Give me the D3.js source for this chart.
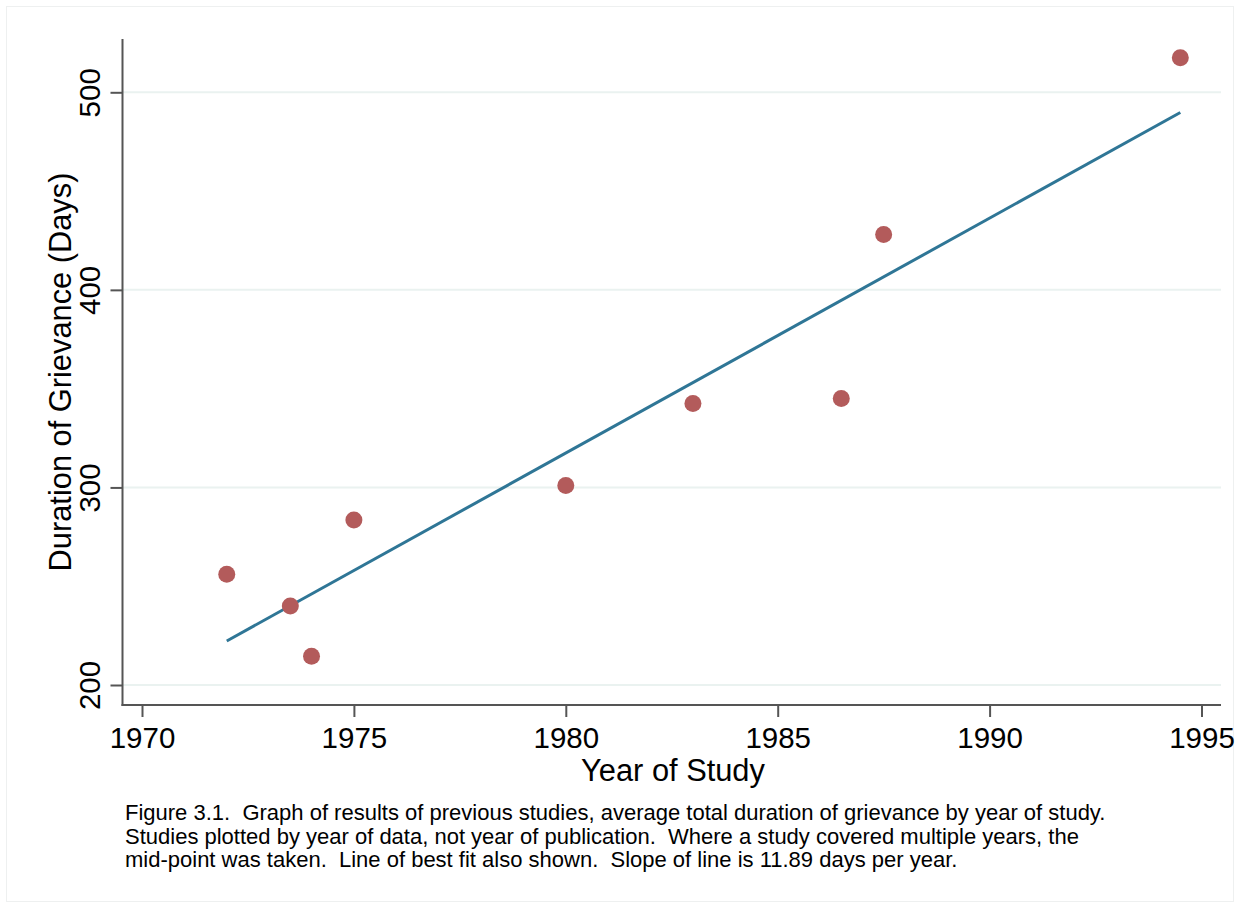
<!DOCTYPE html>
<html><head><meta charset="utf-8">
<script src="https://cdn.jsdelivr.net/npm/d3@7"></script>
<style>
body{margin:0;background:#fff;}
svg{display:block;font-family:"Liberation Sans",Arial,Helvetica,sans-serif;}
.cap{white-space:pre;}
</style></head>
<body><svg id="c" width="1253" height="908"></svg>
<script>
// Data
const studyYears = [1972, 1973.5, 1974, 1975, 1980, 1983, 1986.5, 1987.5, 1994.5];
const durations  = [256, 240, 214.5, 283.5, 301, 342.5, 345, 428, 517.5];
const fitYears   = [1972, 1994.5];
const fitValues  = [222.3, 489.8];
const xTicks = [1970, 1975, 1980, 1985, 1990, 1995];
const yTicks = [200, 300, 400, 500];
const captionLines = [
  "Figure 3.1.  Graph of results of previous studies, average total duration of grievance by year of study.",
  "Studies plotted by year of data, not year of publication.  Where a study covered multiple years, the",
  "mid-point was taken.  Line of best fit also shown.  Slope of line is 11.89 days per year."
];

(function(){
const svg = d3.select("#c");
svg.append("rect").attr("x",6.5).attr("y",6.5).attr("width",1227).attr("height",895)
  .attr("fill","none").attr("stroke","#eef0f0").attr("stroke-width",1);

const x = d3.scaleLinear().domain([1970,1995]).range([142,1201.5]);
const y = d3.scaleLinear().domain([200,500]).range([685,92.3]);
const pL = 122.5, pR = 1221, pT = 39, pB = 705;

svg.append("g").selectAll("line").data(yTicks).join("line")
  .attr("x1",pL).attr("x2",pR).attr("y1",d=>y(d)).attr("y2",d=>y(d))
  .attr("stroke","#eaf2f0").attr("stroke-width",2);

const ya = svg.append("g").attr("transform",`translate(${pL},0)`)
  .call(d3.axisLeft(y).tickValues(yTicks).tickSize(12).tickSizeOuter(0).tickFormat(d3.format("d")));
ya.select(".domain").remove();
ya.selectAll(".tick line").attr("stroke","#555").attr("stroke-width",2);
ya.selectAll(".tick text").attr("transform","rotate(-90)").attr("x",0).attr("y",-33)
  .attr("dy","0.35em").attr("text-anchor","middle").attr("font-size",29.5).attr("fill","#000");
svg.append("line").attr("x1",pL).attr("x2",pL).attr("y1",pT).attr("y2",pB+1)
  .attr("stroke","#555").attr("stroke-width",2);

const xa = svg.append("g").attr("transform",`translate(0,${pB})`)
  .call(d3.axisBottom(x).tickValues(xTicks).tickSize(12).tickSizeOuter(0).tickFormat(d3.format("d")));
xa.select(".domain").remove();
xa.selectAll(".tick line").attr("stroke","#555").attr("stroke-width",2);
xa.selectAll(".tick text").attr("y",22).attr("dy","0.71em").attr("font-size",29.5).attr("fill","#000");
svg.append("line").attr("x1",pL-1).attr("x2",pR).attr("y1",pB).attr("y2",pB)
  .attr("stroke","#555").attr("stroke-width",2);

const fit = fitYears.map((d,i)=>({x:d,y:fitValues[i]}));
svg.append("path").datum(fit)
  .attr("d", d3.line().x(d=>x(d.x)).y(d=>y(d.y)))
  .attr("fill","none").attr("stroke","#2f7696").attr("stroke-width",3);

const pts = studyYears.map((d,i)=>({x:d,y:durations[i]}));
svg.append("g").selectAll("circle").data(pts).join("circle")
  .attr("cx",d=>x(d.x)).attr("cy",d=>y(d.y)).attr("r",8.5).attr("fill","#b35b5b");

svg.append("text").attr("transform",`translate(71,372) rotate(-90)`).attr("text-anchor","middle")
  .attr("font-size",30.8).attr("fill","#000").text("Duration of Grievance (Days)");
svg.append("text").attr("x",673).attr("y",781).attr("text-anchor","middle")
  .attr("font-size",30.8).attr("fill","#000").text("Year of Study");

svg.append("g").selectAll("text").data(captionLines).join("text").attr("class","cap")
  .attr("x",125).attr("y",(d,i)=>820+i*23.5).attr("font-size",22).attr("fill","#000").text(d=>d);
})();
</script></body></html>
